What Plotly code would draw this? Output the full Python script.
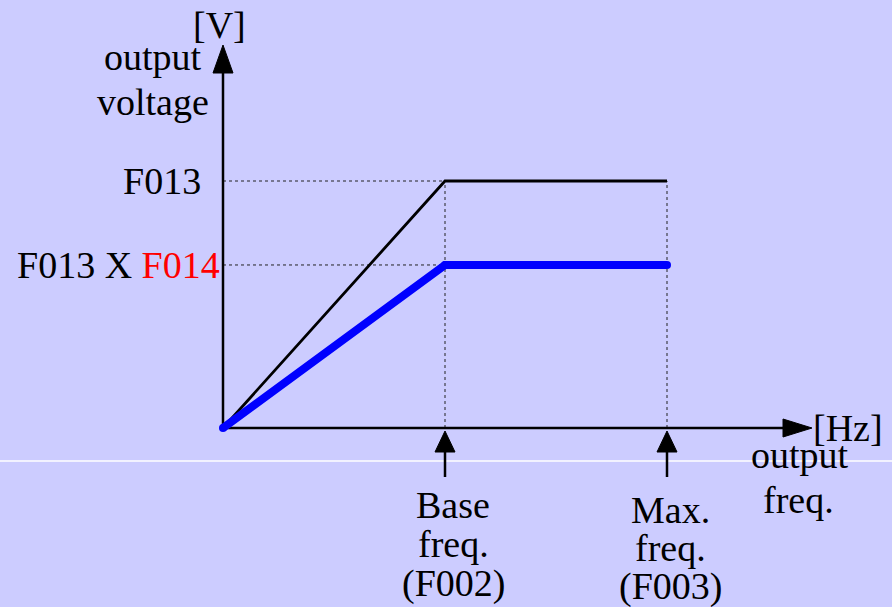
import plotly.graph_objects as go

# ---- data (relative units: base freq = 1, max freq = 2, F013 = 1) ----
freq_points = [0, 1, 2]            # origin, Base freq (F002), Max freq (F003)
v_full = [0, 1, 1]                 # F013 curve
f014_ratio = 0.66                  # F014 scaling
v_reduced = [0, f014_ratio, f014_ratio]
freq_labels = ["Base<br>freq.<br>(F002)", "Max.<br>freq.<br>(F003)"]
volt_labels = ["F013", "F013 X <span style='color:red'>F014</span>"]

W, H = 892, 607
X0_PX, Y0_PX = 223, 428      # origin pixel
SX, SY = 222, 247            # pixels per unit
px = 1.0 / SX
py = 1.0 / SY

xr = [-X0_PX / SX, (W - X0_PX) / SX]
yr = [(Y0_PX - H) / SY, Y0_PX / SY]

BG = "#CCCCFF"
FONT = "Liberation Serif"
FS = 38

fig = go.Figure()

y_top = 383 * py         # y-axis arrow tip
x_tip = 589 * px         # x-axis arrow tip

# white separator line
fig.add_shape(type="line", xref="paper", x0=0, x1=1, yref="y", y0=-33 * py, y1=-33 * py,
              line=dict(color="white", width=1.5), layer="below")

# dotted guide lines
for v in [v_full[1], v_reduced[1]]:
    fig.add_trace(go.Scatter(x=[0, freq_points[1]], y=[v, v], mode="lines",
                             line=dict(color="#222222", width=1, dash="dot"),
                             hoverinfo="skip", showlegend=False))
for f in freq_points[1:]:
    fig.add_trace(go.Scatter(x=[f, f], y=[0, v_full[1]], mode="lines",
                             line=dict(color="#222222", width=1, dash="dot"),
                             hoverinfo="skip", showlegend=False))

# axes
fig.add_trace(go.Scatter(x=[0, 0], y=[0, y_top - 20 * py], mode="lines",
                         line=dict(color="black", width=2.5), hoverinfo="skip", showlegend=False))
fig.add_trace(go.Scatter(x=[0, x_tip - 20 * px], y=[0, 0], mode="lines",
                         line=dict(color="black", width=2.5), hoverinfo="skip", showlegend=False))
# arrowheads
fig.add_trace(go.Scatter(x=[0, -10 * px, 10 * px, 0], y=[y_top, y_top - 28 * py, y_top - 28 * py, y_top],
                         mode="lines", fill="toself", fillcolor="black", line=dict(color="black", width=1),
                         hoverinfo="skip", showlegend=False))
fig.add_trace(go.Scatter(x=[x_tip, x_tip - 29 * px, x_tip - 29 * px, x_tip], y=[0, 9 * py, -9 * py, 0],
                         mode="lines", fill="toself", fillcolor="black", line=dict(color="black", width=1),
                         hoverinfo="skip", showlegend=False))
for f in freq_points[1:]:
    fig.add_trace(go.Scatter(x=[f, f - 10 * px, f + 10 * px, f], y=[-3 * py, -24 * py, -24 * py, -3 * py],
                             mode="lines", fill="toself", fillcolor="black", line=dict(color="black", width=1),
                             hoverinfo="skip", showlegend=False))
    fig.add_trace(go.Scatter(x=[f, f], y=[-20 * py, -49 * py], mode="lines",
                             line=dict(color="black", width=2.5), hoverinfo="skip", showlegend=False))

# curves
fig.add_trace(go.Scatter(x=freq_points, y=v_full, mode="lines",
                         line=dict(color="black", width=2.8), hoverinfo="skip", showlegend=False))
fig.add_trace(go.Scatter(x=freq_points, y=v_reduced, mode="lines+markers",
                         line=dict(color="#0000FF", width=8),
                         marker=dict(color="#0000FF", size=8, line=dict(width=0)),
                         hoverinfo="skip", showlegend=False))

def txt(x, y, s, xanchor="center", yanchor="middle", color="black"):
    fig.add_annotation(x=x, y=y, xref="x", yref="y", text=s, showarrow=False,
                       xanchor=xanchor, yanchor=yanchor,
                       font=dict(family=FONT, size=FS, color=color))

# y axis labels
txt(-4 * px, 403 * py, "[V]")
txt(-70 * px, 371 * py, "output")
txt(-70 * px, 326 * py, "voltage")
txt(-20 * px, v_full[1], volt_labels[0], xanchor="right")
txt(-1 * px, v_reduced[1], volt_labels[1], xanchor="right")

# x axis labels
txt(x_tip + 36 * px, 0, "[Hz]")
txt(x_tip - 12 * px, -27 * py, "output")
txt(x_tip - 14 * px, -72 * py, "freq.")
offs = [[-77, -116, -155], [-82, -120, -158]]
dxs = [8 * px, 3 * px]
for f, lab, o, dx in zip(freq_points[1:], freq_labels, offs, dxs):
    for line, oy in zip(lab.split("<br>"), o):
        txt(f + dx, oy * py, line)

fig.update_layout(
    width=W, height=H,
    margin=dict(l=0, r=0, t=0, b=0),
    paper_bgcolor=BG, plot_bgcolor=BG,
    xaxis=dict(range=xr, visible=False, fixedrange=True),
    yaxis=dict(range=yr, visible=False, fixedrange=True),
    showlegend=False,
)

fig.write_html("out.html", config={"displayModeBar": False},
               post_script="document.body.style.margin='0';document.body.style.background='#CCCCFF';")
